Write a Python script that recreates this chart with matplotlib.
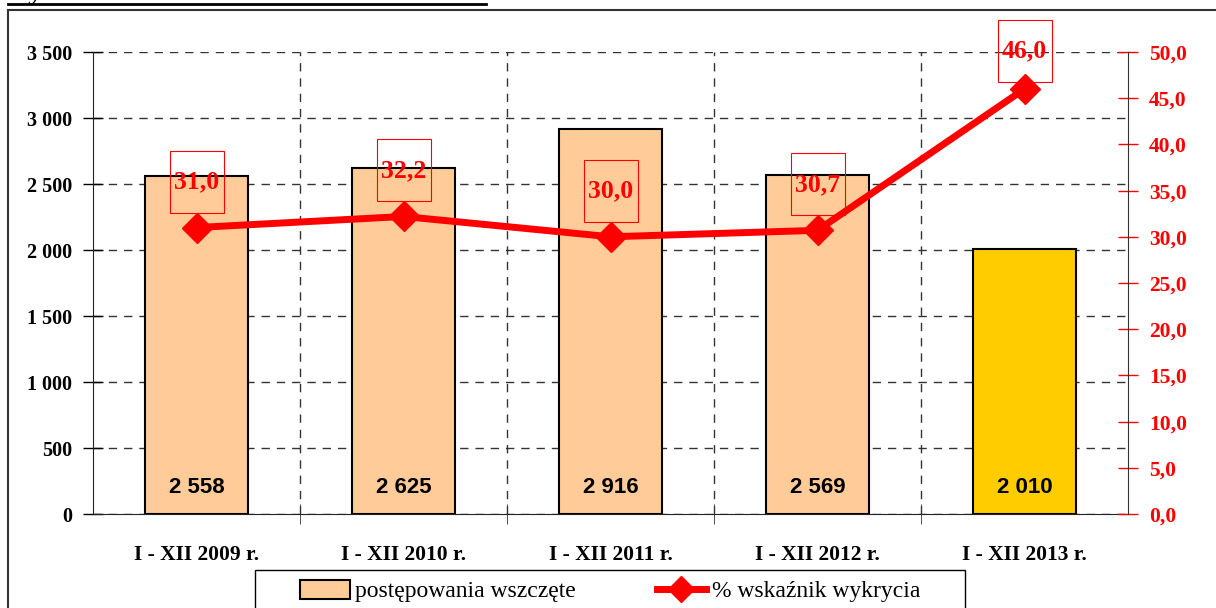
import matplotlib
matplotlib.use("Agg")
import matplotlib.pyplot as plt
from matplotlib.lines import Line2D
from matplotlib.patches import Patch, Rectangle
from matplotlib.ticker import FuncFormatter, MultipleLocator

categories = ["I - XII 2009 r.", "I - XII 2010 r.", "I - XII 2011 r.", "I - XII 2012 r.", "I - XII 2013 r."]
cases = [2558, 2625, 2916, 2569, 2010]
detection = [31.0, 32.2, 30.0, 30.7, 46.0]
bar_colors = ["#FFCC99", "#FFCC99", "#FFCC99", "#FFCC99", "#FFCC00"]
legend_labels = ["postępowania wszczęte", "% wskaźnik wykrycia"]
title = "Wykres nr 16 – Kradzieże samochodów"

W, H = 1216, 608
fig = plt.figure(figsize=(W / 100, H / 100), dpi=100)
ax = fig.add_axes([93 / W, 1 - 514 / H, (1128 - 93) / W, (514 - 52) / H])
ax2 = ax.twinx()

serif = "Liberation Serif"
sans = "Liberation Sans"

x = list(range(len(categories)))
ax.bar(x, cases, width=0.5, color=bar_colors, edgecolor="black", linewidth=1.5, zorder=3)
for xi, v in zip(x, cases):
    ax.text(xi, 200, f"{v:,}".replace(",", " "), ha="center", va="center",
            fontsize=16, fontweight="bold", family=sans, zorder=4)

ax.set_xlim(-0.5, len(categories) - 0.5)
ax.set_ylim(0, 3500)
ax.yaxis.set_major_locator(MultipleLocator(500))
ax.yaxis.set_major_formatter(FuncFormatter(lambda v, p: f"{int(v):,}".replace(",", " ")))
ax.set_xticks(x)
ax.set_xticklabels(categories, fontsize=15.5, fontweight="bold", family=serif)
ax.tick_params(axis="x", length=0, pad=22)
ax.set_xticks([i + 0.5 for i in x[:-1]], minor=True)
ax.tick_params(axis="x", which="minor", direction="inout", length=14, color="#333333")
ax.tick_params(axis="y", direction="inout", length=14, width=1, pad=8, labelsize=14.5)
for lab in ax.get_yticklabels():
    lab.set_family(serif)
    lab.set_fontweight("bold")

ax.grid(axis="y", which="major", linestyle=(0, (6, 5)), color="#333333", linewidth=1, zorder=1)
ax.grid(axis="x", which="minor", linestyle=(0, (6, 5)), color="#333333", linewidth=1, zorder=1)
for s in ["top", "right"]:
    ax.spines[s].set_visible(False)
ax.spines["left"].set_color("#222222")
ax.spines["bottom"].set_color("#222222")

ax2.plot(x, detection, color="#FF0000", linewidth=5, marker="D", markersize=15,
         markeredgecolor="#FF0000", zorder=5, clip_on=False)
ax2.set_ylim(0, 50)
ax2.yaxis.set_major_locator(MultipleLocator(5))
ax2.yaxis.set_major_formatter(FuncFormatter(lambda v, p: f"{v:.1f}".replace(".", ",")))
ax2.tick_params(axis="y", direction="inout", length=14, width=1, color="#FF0000",
                labelcolor="#FF0000", pad=8, labelsize=15.5)
for lab in ax2.get_yticklabels():
    lab.set_family(serif)
    lab.set_fontweight("bold")
for s in ["top", "left", "bottom"]:
    ax2.spines[s].set_visible(False)
ax2.spines["right"].set_color("#333333")

fig.canvas.draw()
for xi, v in zip(x, detection):
    px, py = ax2.transData.transform((xi, v))
    target = min(py + 46, H - 51)
    off = (target - py) * 72 / 100
    ax2.annotate(f"{v:.1f}".replace(".", ","), (xi, v), xytext=(0, off), textcoords="offset points",
                 ha="center", va="center", fontsize=18.5, fontweight="bold", family=serif,
                 color="#FF0000", zorder=6, annotation_clip=False)
    fig.add_artist(Rectangle((px - 27, target - 31), 54, 62, transform=None, facecolor="none",
                             edgecolor="#FF0000", linewidth=0.8, zorder=6))

handles = [Patch(facecolor="#FFCC99", edgecolor="black", linewidth=1.5),
           Line2D([0], [0], color="#FF0000", linewidth=5, marker="D", markersize=13)]
leg = fig.legend(handles, legend_labels, loc="center left", bbox_to_anchor=(300 / W, 1 - 591 / H),
                 ncol=2, frameon=False, prop={"family": serif, "size": 17},
                 handlelength=2.1, handleheight=0.9, handletextpad=0.25,
                 borderaxespad=0, borderpad=0, columnspacing=3.4)
fig.add_artist(Rectangle((255 / W, -0.02), 710 / W, 0.02 + 38 / H, transform=fig.transFigure,
                         facecolor="none", edgecolor="black", linewidth=1.0))

fig.add_artist(Line2D([8 / W, 1], [1 - 10 / H, 1 - 10 / H], transform=fig.transFigure, color="#333333", linewidth=1.5))
fig.add_artist(Line2D([8 / W, 8 / W], [0, 1 - 10 / H], transform=fig.transFigure, color="#333333", linewidth=1.5))

fig.text(8 / W, 1 + 1 / H, title, ha="left", va="baseline", fontsize=20, fontweight="bold",
         fontstyle="italic", family=serif)
fig.add_artist(Line2D([8 / W, 486 / W], [1 - 4 / H, 1 - 4 / H], transform=fig.transFigure, color="black", linewidth=2))

fig.savefig("out.png", dpi=100)
